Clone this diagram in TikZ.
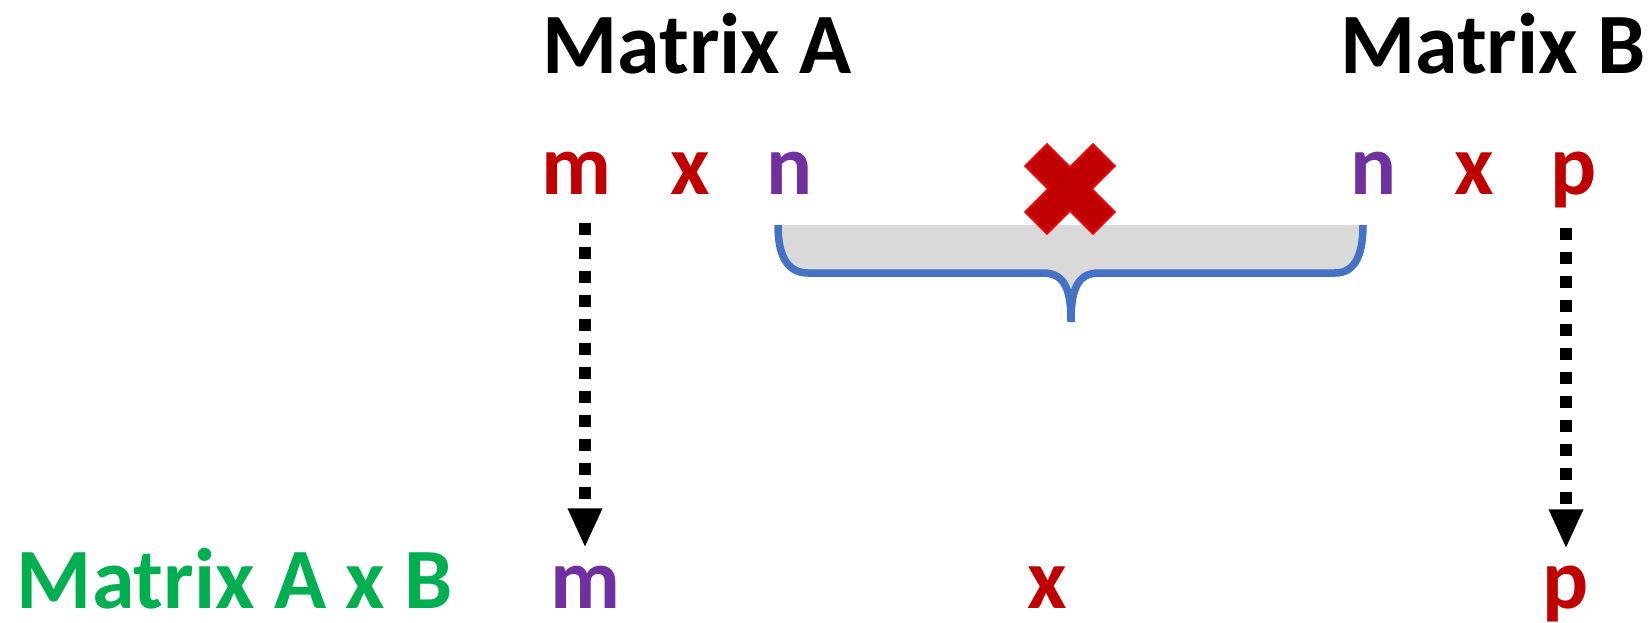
\documentclass[tikz,border=0pt]{standalone}
\usepackage{fontspec}
\setmainfont{Carlito}
\usetikzlibrary{arrows.meta}
\definecolor{dred}{HTML}{C00000}
\definecolor{dpurple}{HTML}{7030A0}
\definecolor{dgreen}{HTML}{00B050}
\definecolor{bblue}{HTML}{4472C4}
\definecolor{lgray}{HTML}{D9D9D9}
\tikzset{
  lbl/.style={anchor=base,inner sep=0pt,font=\fontsize{86}{100}\selectfont\bfseries},
  dotarrow/.style={line width=12pt,dash pattern=on 12pt off 12pt,
    -{Triangle[length=38pt,width=35pt,line width=0pt]}},
}
\begin{document}
\begin{tikzpicture}[x=1pt,y=-1pt]
\useasboundingbox (0,0) rectangle (1650,623);
% titles
\node[lbl] (titleA) at (697,74) {Matrix A};
\node[lbl] (titleB) at (1493,74) {Matrix B};
% top row
\node[lbl,text=dred] (mA) at (576,194) {m};
\node[lbl,text=dred] (xA) at (690,194) {x};
\node[lbl,text=dpurple] (nA) at (790,194) {n};
\node[lbl,text=dpurple] (nB) at (1374,194) {n};
\node[lbl,text=dred] (xB) at (1474,194) {x};
\node[lbl,text=dred] (pB) at (1574,194) {p};
% bottom row
\node[lbl,text=dgreen] (res) at (235,608) {Matrix A x B};
\node[lbl,text=dpurple] (mR) at (585,608) {m};
\node[lbl,text=dred] (xR) at (1047,608) {x};
\node[lbl,text=dred] (pR) at (1566,608) {p};
% brace
\filldraw[fill=lgray,draw=none]
  (778,225) .. controls (778,260) and (790,273) .. (808,273)
  -- (1043,273) .. controls (1065,273) and (1071,290) .. (1071,322)
  .. controls (1071,290) and (1077,273) .. (1099,273)
  -- (1335,273) .. controls (1352,273) and (1363,260) .. (1363,225) -- cycle;
\draw[bblue,line width=7.5pt]
  (778,225) .. controls (778,260) and (790,273) .. (808,273)
  -- (1043,273) .. controls (1065,273) and (1071,290) .. (1071,322)
  .. controls (1071,290) and (1077,273) .. (1099,273)
  -- (1335,273) .. controls (1352,273) and (1363,260) .. (1363,225);
% cross
\filldraw[fill=dred,draw=red,line width=1.5pt,line join=miter]
  (1048,189) -- (1025,166) -- (1047,144) -- (1070,167) -- (1093,144)
  -- (1115,166) -- (1092,189) -- (1115,212) -- (1093,234) -- (1070,211)
  -- (1047,234) -- (1025,212) -- cycle;
% arrows
\draw[dotarrow,shorten <=29pt,shorten >=19pt] (mA.south -| mR.north) -- (mR.north);
\draw[dotarrow,shorten <=20pt,shorten >=18pt] (pB.south -| pR.north) -- (pR.north);
\end{tikzpicture}
\end{document}
